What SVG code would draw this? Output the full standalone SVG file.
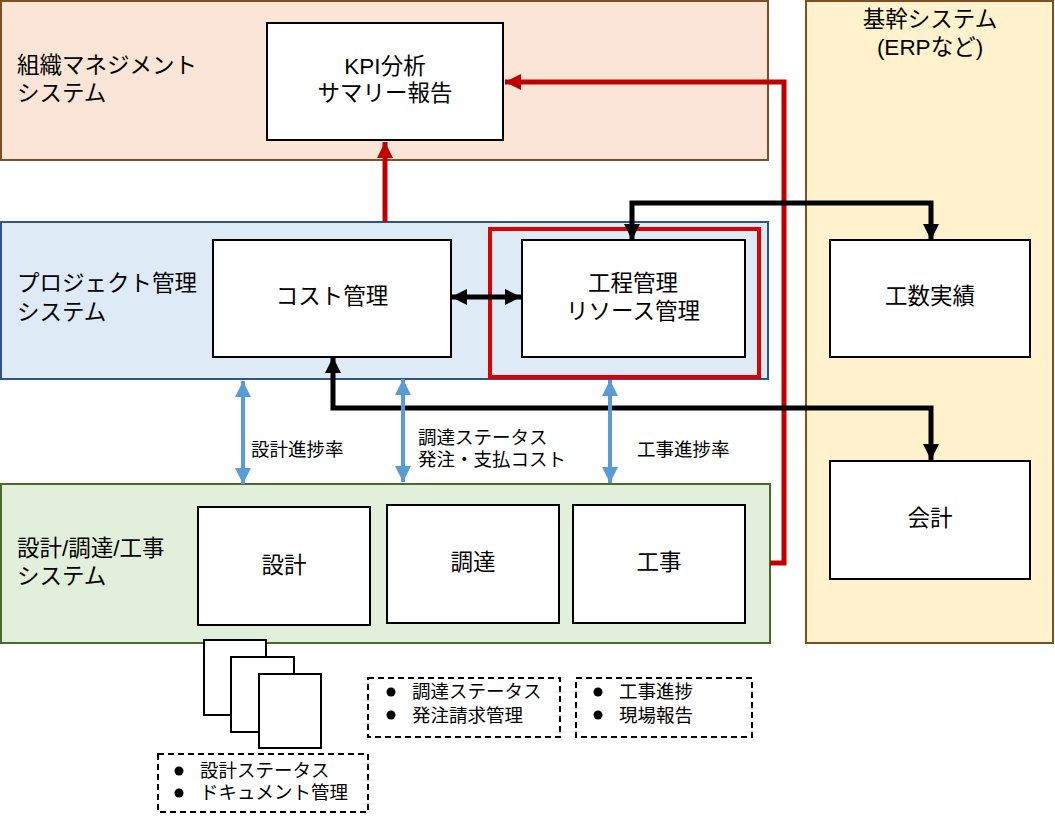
<svg xmlns="http://www.w3.org/2000/svg" width="1055" height="818" viewBox="0 0 1055 818">
<defs>
<style>
text{font-family:"Liberation Sans","Noto Sans CJK JP",sans-serif;fill:#000}
.big{font-size:22.5px}
.lbl{font-size:18.5px}
.mid{text-anchor:middle}
.node{fill:#fff;stroke:#000;stroke-width:2}
.dash{fill:none;stroke:#000;stroke-width:2;stroke-dasharray:6 4}
.blk{fill:none;stroke:#000;stroke-width:5}
.red{fill:none;stroke:#C00000;stroke-width:5}
.blue{fill:none;stroke:#5B9BD5;stroke-width:4}
</style>
<marker id="ab" markerUnits="userSpaceOnUse" markerWidth="18" markerHeight="18" viewBox="0 0 18 18" refX="16" refY="9" orient="auto-start-reverse"><path d="M0,1 L16,9 L0,17 Z" fill="#000"/></marker>
<marker id="ar" markerUnits="userSpaceOnUse" markerWidth="18" markerHeight="18" viewBox="0 0 18 18" refX="16" refY="9" orient="auto-start-reverse"><path d="M0,1 L16,9 L0,17 Z" fill="#C00000"/></marker>
<marker id="au" markerUnits="userSpaceOnUse" markerWidth="18" markerHeight="18" viewBox="0 0 18 18" refX="16" refY="9" orient="auto-start-reverse"><path d="M0,1 L16,9 L0,17 Z" fill="#5B9BD5"/></marker>
</defs>
<rect width="1055" height="818" fill="#fff"/>

<g id="band-org">
<rect x="1" y="1" width="767" height="159" fill="#FBE5D6" stroke="#7F4F24" stroke-width="2"/>
<text class="big" x="17" y="73">組織マネジメント<tspan x="17" y="101">システム</tspan></text>
</g>
<g id="band-erp">
<rect x="806" y="1" width="247" height="642" fill="#FFF2CC" stroke="#7F4F24" stroke-width="2"/>
<text class="big mid" x="930" y="27">基幹システム<tspan x="930" y="55">(ERPなど)</tspan></text>
</g>
<g id="band-pm">
<rect x="1" y="222" width="767" height="157" fill="#DEEBF7" stroke="#2F5487" stroke-width="2"/>
<text class="big" x="17" y="291">プロジェクト管理<tspan x="17" y="320">システム</tspan></text>
</g>
<g id="band-ops">
<rect x="1" y="484" width="769" height="159" fill="#E2EFDA" stroke="#4A6B2F" stroke-width="2"/>
<text class="big" x="17" y="556">設計/調達/工事<tspan x="17" y="584">システム</tspan></text>
</g>

<g id="node-kpi">
<rect class="node" x="267" y="23" width="236" height="117"/>
<text class="big mid" x="385" y="74">KPI分析<tspan x="385" y="101">サマリー報告</tspan></text>
</g>
<g id="node-cost">
<rect class="node" x="213" y="240" width="238" height="117"/>
<text class="big mid" x="332" y="304">コスト管理</text>
</g>
<g id="node-highlight">
<rect x="490" y="229" width="269" height="148" fill="none" stroke="#E00000" stroke-width="4"/>
</g>
<g id="node-process">
<rect class="node" x="522" y="240" width="223" height="117"/>
<text class="big mid" x="633" y="291">工程管理<tspan x="633" y="319">リソース管理</tspan></text>
</g>
<g id="node-manhours">
<rect class="node" x="830" y="240" width="200" height="117"/>
<text class="big mid" x="930" y="304">工数実績</text>
</g>
<g id="node-accounting">
<rect class="node" x="830" y="461" width="200" height="118"/>
<text class="big mid" x="930" y="526">会計</text>
</g>
<g id="node-design">
<rect class="node" x="198" y="507" width="172" height="118"/>
<text class="big mid" x="284" y="573">設計</text>
</g>
<g id="node-procure">
<rect class="node" x="387" y="505" width="172" height="118"/>
<text class="big mid" x="473" y="570">調達</text>
</g>
<g id="node-construct">
<rect class="node" x="573" y="505" width="172" height="118"/>
<text class="big mid" x="659" y="570">工事</text>
</g>

<g id="node-docs">
<rect class="node" x="204" y="640" width="62" height="75"/>
<rect class="node" x="231" y="657" width="63" height="75"/>
<rect class="node" x="259" y="674" width="62" height="74"/>
</g>
<g id="note-design">
<rect class="dash" x="158" y="754" width="210" height="58"/>
<circle cx="179" cy="771" r="4.5"/>
<circle cx="179" cy="793" r="4.5"/>
<text class="lbl" x="200" y="777">設計ステータス<tspan x="200" y="799">ドキュメント管理</tspan></text>
</g>
<g id="note-procure">
<rect class="dash" x="368" y="678" width="192" height="59"/>
<circle cx="391" cy="692" r="4.5"/>
<circle cx="391" cy="715" r="4.5"/>
<text class="lbl" x="412" y="698">調達ステータス<tspan x="412" y="722">発注請求管理</tspan></text>
</g>
<g id="note-construct">
<rect class="dash" x="576" y="678" width="176" height="59"/>
<circle cx="598" cy="692" r="4.5"/>
<circle cx="598" cy="715" r="4.5"/>
<text class="lbl" x="619" y="698">工事進捗<tspan x="619" y="722">現場報告</tspan></text>
</g>

<g id="connectors">
<path class="red" d="M385,222 L385,142" marker-end="url(#ar)"/>
<path class="red" d="M770,563 L784,563 L784,82 L505,82" marker-end="url(#ar)"/>
<path class="blk" d="M632,240 L632,203 L931,203 L931,240" marker-start="url(#ab)" marker-end="url(#ab)"/>
<path class="blk" d="M333,357 L333,408 L931,408 L931,460" marker-start="url(#ab)" marker-end="url(#ab)"/>
<path class="blk" d="M451,297 L521,297" marker-start="url(#ab)" marker-end="url(#ab)"/>
<path class="blue" d="M243,381 L243,484" marker-start="url(#au)" marker-end="url(#au)"/>
<path class="blue" d="M403,379 L403,482" marker-start="url(#au)" marker-end="url(#au)"/>
<path class="blue" d="M610,380 L610,483" marker-start="url(#au)" marker-end="url(#au)"/>
<text class="lbl" x="251" y="456">設計進捗率</text>
<text class="lbl" x="418" y="444">調達ステータス<tspan x="418" y="466">発注・支払コスト</tspan></text>
<text class="lbl" x="637" y="456">工事進捗率</text>
</g>
</svg>
